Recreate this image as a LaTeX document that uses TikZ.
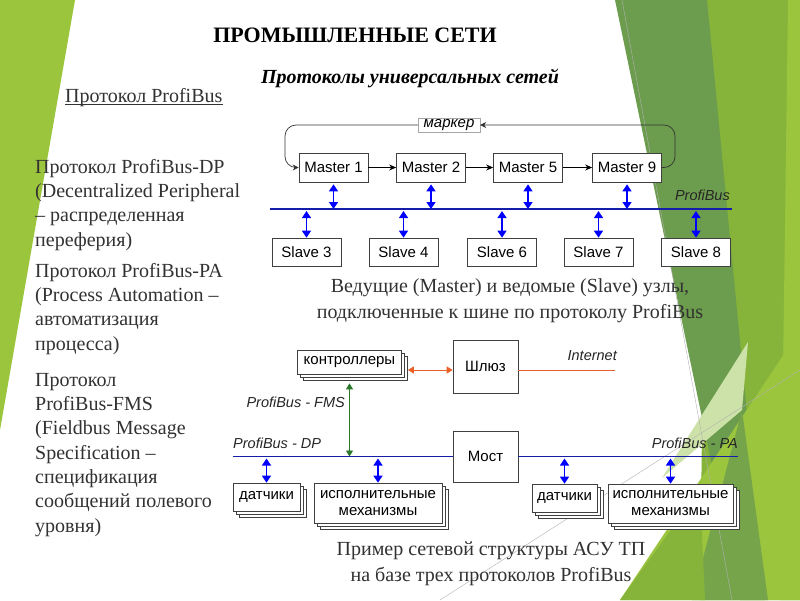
\documentclass[tikz,border=0pt]{standalone}
\usepackage{fontspec}
\setmainfont{Liberation Serif}
\newfontfamily\arialf{Liberation Sans}
\usetikzlibrary{arrows.meta,shadows,calc}

\definecolor{leafgreen}{RGB}{156,197,62}
\definecolor{mossgreen}{RGB}{108,156,78}
\definecolor{grassgreen}{RGB}{134,180,58}
\definecolor{palegreen}{RGB}{205,226,168}
\definecolor{bodytext}{RGB}{50,50,50}
\definecolor{busblue}{RGB}{20,30,170}
\definecolor{linkorange}{RGB}{235,95,40}
\definecolor{linkgreen}{RGB}{40,120,40}

\begin{document}
\begin{tikzpicture}[x=1pt,y=1pt,
  unit/.style={draw=black!75,fill=white,line width=0.7pt,minimum width=69pt,
    minimum height=29pt,inner sep=0pt,align=center,
    font=\arialf\fontsize{15}{17}\selectfont},
  group/.style={unit,double copy shadow={shadow xshift=3pt,shadow yshift=-3pt,
    draw=black!75,fill=white}},
  buslabel/.style={inner sep=0pt,text=black!85,font=\arialf\itshape\fontsize{14.5}{16}\selectfont},
  bus/.style={draw=busblue,line width=1.6pt},
  duplex/.style={draw=blue,line width=1.3pt,
    {Triangle[width=9pt,length=7pt]}-{Triangle[width=9pt,length=7pt]}},
  pass/.style={draw=black,line width=0.8pt,-{Stealth[length=7pt,width=6pt]}},
  token/.style={draw=black!80,line width=0.7pt,rounded corners=11pt,-{Stealth[length=6pt,width=6pt]}},
  para/.style={anchor=north west,inner sep=0pt,align=left,text=bodytext,
    font=\fontsize{20}{24.3}\selectfont},
  caption/.style={inner sep=0pt,align=center,text=bodytext,
    font=\fontsize{20}{26}\selectfont}]
\useasboundingbox (0,0) rectangle (800,-600);
\fill[white] (0,0) rectangle (800,-600);

\fill[leafgreen] (0,0) -- (75,0) -- (0,-430) -- cycle;
\fill[grassgreen] (707,0) -- (800,0) -- (800,-600) -- (700,-600) -- cycle;
\fill[leafgreen] (788,0) -- (800,0) -- (800,-600) -- (780,-600) -- cycle;
\fill[mossgreen] (615,0) -- (707,0) -- (765,-600) -- (740,-600) -- cycle;
\fill[leafgreen] (620,-600) -- (800,-330) -- (800,-600) -- cycle;
\fill[palegreen] (662,-478) -- (748,-342) -- (742,-410) -- cycle;
\fill[mossgreen!80!leafgreen] (692,-600) -- (742,-410) -- (768,-600) -- cycle;
\fill[grassgreen] (620,-600) -- (700,-490) -- (705,-600) -- cycle;
\draw[gray!60,line width=0.4pt] (622,0) -- (732,-600);
\draw[gray!60,line width=0.4pt] (440,-600) -- (800,-370);

\node[anchor=base,inner sep=0pt,font=\bfseries\fontsize{22}{26}\selectfont] (title) at (355,-42) {ПРОМЫШЛЕННЫЕ СЕТИ};
\node[anchor=base,inner sep=0pt,font=\bfseries\itshape\fontsize{20}{24}\selectfont] (subtitle) at (410,-83) {Протоколы универсальных сетей};
\node[anchor=base west,inner sep=0pt,text=bodytext,font=\fontsize{20}{24}\selectfont] (proto) at (65,-102) {Протокол ProfiBus};
\draw[bodytext,line width=0.8pt] ([yshift=-2.5pt]proto.base west) -- ([yshift=-2.5pt]proto.base east);

\node[para] (dp) at (35,-159) {Протокол ProfiBus-DP\\(Decentralized Peripheral\\– распределенная\\переферия)};
\node[para] (pa) at (35,-263) {Протокол ProfiBus-PA\\(Process Automation –\\автоматизация\\процесса)};
\node[para] (fms) at (35,-373) {Протокол\\ProfiBus-FMS\\(Fieldbus Message\\Specification –\\спецификация\\сообщений полевого\\уровня)};

\node[unit] (m1) at (333.5,-167.5) {Master 1};
\node[unit] (m2) at (431,-167.5) {Master 2};
\node[unit] (m5) at (528,-167.5) {Master 5};
\node[unit] (m9) at (627,-167.5) {Master 9};
\node[draw=black!35,fill=white,inner sep=0pt,minimum width=62pt,minimum height=14pt,
  font=\arialf\itshape\fontsize{15}{17}\selectfont] (marker) at (449,-125) {маркер};
\coordinate (loopL) at (285,-125);
\coordinate (loopR) at (675,-125);
\draw[pass] (m1) -- (m2);
\draw[pass] (m2) -- (m5);
\draw[pass] (m5) -- (m9);
\draw[token] (m9.east) -| (loopR) -- (marker.east);
\draw[token] (marker.west) -- (loopL) |- (m1.west);

\coordinate (busW) at (270,-209);
\coordinate (busE) at (732,-209);
\draw[bus] (busW) -- (busE);
\node[buslabel,anchor=base east] (pblabel) at (730,-200) {ProfiBus};

\node[unit,minimum height=28pt] (s3) at (306.5,-252) {Slave 3};
\node[unit,minimum height=28pt] (s4) at (403.5,-252) {Slave 4};
\node[unit,minimum height=28pt] (s6) at (502,-252) {Slave 6};
\node[unit,minimum height=28pt] (s7) at (598.5,-252) {Slave 7};
\node[unit,minimum height=28pt] (s8) at (696,-252) {Slave 8};

\draw[duplex] ([yshift=-2pt]m1.south) -- (m1.south |- busW);
\draw[duplex] ([yshift=-2pt]m2.south) -- (m2.south |- busW);
\draw[duplex] ([yshift=-2pt]m5.south) -- (m5.south |- busW);
\draw[duplex] ([yshift=-2pt]m9.south) -- (m9.south |- busW);
\draw[duplex] ($(s3.north |- busW)+(0,-2)$) -- (s3.north);
\draw[duplex] ($(s4.north |- busW)+(0,-2)$) -- (s4.north);
\draw[duplex] ($(s6.north |- busW)+(0,-2)$) -- (s6.north);
\draw[duplex] ($(s7.north |- busW)+(0,-2)$) -- (s7.north);
\draw[duplex] ($(s8.north |- busW)+(0,-2)$) -- (s8.north);

\node[caption] (cap1) at (510,-301) {Ведущие (Master) и ведомые (Slave) узлы,\\подключенные к шине по протоколу ProfiBus};

\node[group,minimum width=104pt,minimum height=24pt] (ctrl) at (349.5,-362) {контроллеры};
\node[unit,minimum width=65pt,minimum height=53pt] (gate) at (485.5,-366.5) {Шлюз};
\node[unit,minimum width=65pt,minimum height=51pt] (bridge) at (485.5,-456.5) {Мост};
\node[group,minimum width=67pt,minimum height=28pt] (sensL) at (266.5,-497) {датчики};
\node[group,minimum width=128pt,minimum height=40pt] (actL) at (378,-503) {исполнительные\\механизмы};
\node[group,minimum width=65pt,minimum height=28pt] (sensR) at (564.5,-498) {датчики};
\node[group,minimum width=125pt,minimum height=39pt] (actR) at (670.5,-503.5) {исполнительные\\механизмы};

\coordinate (dpW) at (233,-456.5);
\coordinate (paE) at (738,-456.5);
\coordinate (inet) at (615,-370);
\path ($(ctrl.east)+(6,-8)$) coordinate (ctrlport);
\draw[bus,line width=1.3pt] (dpW) -- (bridge.west);
\draw[bus,line width=1.3pt] (bridge.east) -- (paE);
\draw[draw=linkorange,line width=0.9pt,{Triangle[width=7pt,length=6pt]}-{Triangle[width=7pt,length=6pt]}] (ctrlport) -- (ctrlport -| gate.west);
\draw[draw=linkorange,line width=0.9pt] (gate.east |- inet) -- (inet);
\draw[draw=linkgreen,line width=0.9pt,{Triangle[width=7pt,length=6pt]}-{Triangle[width=7pt,length=6pt]}] ([yshift=-9pt]ctrl.south) -- (ctrl.south |- dpW);
\draw[duplex] ($(sensL.north |- dpW)+(0,-2)$) -- (sensL.north);
\draw[duplex] ($(actL.north |- dpW)+(0,-2)$) -- (actL.north);
\draw[duplex] ($(sensR.north |- dpW)+(0,-2)$) -- (sensR.north);
\draw[duplex] ($(actR.north |- dpW)+(0,-2)$) -- (actR.north);

\node[buslabel,anchor=base east] (inetlabel) at (617,-360) {Internet};
\node[buslabel,anchor=base east] (fmslabel) at (345,-407) {ProfiBus - FMS};
\node[buslabel,anchor=base west] (dplabel) at (233,-448) {ProfiBus - DP};
\node[buslabel,anchor=base east] (palabel) at (738,-448) {ProfiBus - PA};

\node[caption] (cap2) at (491,-564) {Пример сетевой структуры АСУ ТП\\на базе трех протоколов ProfiBus};
\end{tikzpicture}
\end{document}
